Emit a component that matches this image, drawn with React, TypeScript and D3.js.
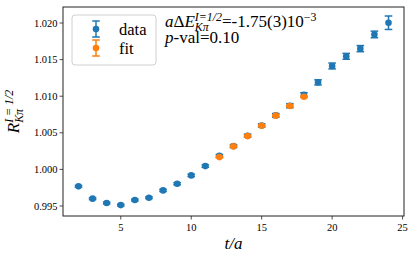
import React, { useEffect, useRef } from 'react';
import * as d3 from 'd3';

// lattice time slices and ratio values
const tData = [2, 3, 4, 5, 6, 7, 8, 9, 10, 11, 12, 13, 14, 15, 16, 17, 18, 19, 20, 21, 22, 23, 24];
const rData = [0.99768, 0.996, 0.9954, 0.99512, 0.99581, 0.99613, 0.99713, 0.99804, 0.99918, 1.00045, 1.00185, 1.00318, 1.0046, 1.006, 1.00738, 1.0087, 1.01018, 1.01189, 1.01413, 1.01545, 1.0165, 1.01844, 1.02004];
const rErr = [0.00012, 0.00012, 0.00012, 0.00012, 0.00012, 0.00012, 0.00014, 0.00014, 0.00015, 0.00016, 0.00018, 0.0002, 0.0002, 0.00022, 0.00025, 0.00028, 0.0003, 0.00035, 0.0004, 0.0004, 0.00042, 0.00045, 0.00092];

const tFit = [12, 13, 14, 15, 16, 17, 18];
const rFit = [1.00168, 1.00314, 1.00455, 1.00597, 1.00734, 1.00866, 1.00993];
const fitErr = [0.0001, 0.0001, 0.0001, 0.0001, 0.0001, 0.0001, 0.0001];

const xTicks = [5, 10, 15, 20, 25];
const yTicks = [0.995, 1.0, 1.005, 1.01, 1.015, 1.02];

const BLUE = '#1f77b4';
const ORANGE = '#ff7f0e';

type Piece = { text: string; italic?: boolean; kind?: 'n' | 'sup' | 'sub' };

// lays out a small mathtext-like string, returns total width
function drawMath(g: any, x: number, y: number, pieces: Piece[], size: number, anchor = 'start') {
  const grp = g.append('g');
  let cx = 0;
  let lastSupX = 0;
  let lastSupW = 0;
  pieces.forEach((p) => {
    const kind = p.kind || 'n';
    const fs = kind === 'n' ? size : size * 0.7;
    let px = cx;
    let py = 0;
    if (kind === 'sup') { py = -size * 0.38; lastSupX = cx; }
    if (kind === 'sub') { py = size * 0.24; px = lastSupX; }
    const t = grp.append('text')
      .attr('x', px).attr('y', py)
      .attr('font-size', fs)
      .attr('font-style', p.italic ? 'italic' : 'normal')
      .attr('fill', 'black')
      .text(p.text);
    const w = (t.node() as SVGTextElement).getComputedTextLength();
    if (kind === 'sup') { lastSupW = w; cx += w; }
    else if (kind === 'sub') { cx = lastSupX + Math.max(lastSupW, w); }
    else cx += w;
  });
  const shift = anchor === 'middle' ? -cx / 2 : 0;
  grp.attr('transform', `translate(${x + shift},${y})`);
  return cx;
}

export default function App() {
  const ref = useRef<SVGSVGElement>(null);

  useEffect(() => {
    const svg = d3.select(ref.current);
    svg.selectAll('*').remove();

    const left = 63, right = 404, top = 7, bottom = 216;
    const x = d3.scaleLinear().domain([0.9, 25.1]).range([left, right]);
    const y = d3.scaleLinear().domain([0.99363, 1.02219]).range([bottom, top]);

    const g = svg.append('g');

    // error bars + markers
    const drawSeries = (ts: number[], rs: number[], es: number[], color: string) => {
      const s = g.append('g');
      ts.forEach((t, i) => {
        const cx = x(t);
        const y1 = y(rs[i] + es[i]);
        const y2 = y(rs[i] - es[i]);
        s.append('line').attr('x1', cx).attr('x2', cx).attr('y1', y1).attr('y2', y2)
          .attr('stroke', color).attr('stroke-width', 1.5);
        [y1, y2].forEach((yy) => {
          s.append('line').attr('x1', cx - 3.8).attr('x2', cx + 3.8).attr('y1', yy).attr('y2', yy)
            .attr('stroke', color).attr('stroke-width', 1.5);
        });
        s.append('circle').attr('cx', cx).attr('cy', y(rs[i])).attr('r', 3.3).attr('fill', color);
      });
    };
    drawSeries(tData, rData, rErr, BLUE);
    drawSeries(tFit, rFit, fitErr, ORANGE);

    // frame
    g.append('rect').attr('x', left).attr('y', top).attr('width', right - left).attr('height', bottom - top)
      .attr('fill', 'none').attr('stroke', '#222').attr('stroke-width', 1);

    // ticks
    xTicks.forEach((v) => {
      g.append('line').attr('x1', x(v)).attr('x2', x(v)).attr('y1', bottom).attr('y2', bottom + 3.5)
        .attr('stroke', '#222').attr('stroke-width', 0.8);
      g.append('text').attr('x', x(v)).attr('y', bottom + 14.5).attr('text-anchor', 'middle')
        .attr('font-size', 10.5).text(d3.format('d')(v));
    });
    yTicks.forEach((v) => {
      g.append('line').attr('x1', left - 3.5).attr('x2', left).attr('y1', y(v)).attr('y2', y(v))
        .attr('stroke', '#222').attr('stroke-width', 0.8);
      g.append('text').attr('x', left - 5.5).attr('y', y(v) + 3.6).attr('text-anchor', 'end')
        .attr('font-size', 10.5).text(d3.format('.3f')(v));
    });

    // axis labels
    drawMath(g, (left + right) / 2, 249, [{ text: 't/a', italic: true }], 17, 'middle');
    const yl = g.append('g').attr('transform', `translate(19,${(top + bottom) / 2}) rotate(-90)`);
    drawMath(yl, 0, 0, [
      { text: 'R', italic: true },
      { text: 'I = 1/2', italic: true, kind: 'sup' },
      { text: 'Kπ', italic: true, kind: 'sub' },
    ], 17, 'middle');

    // legend
    const lg = g.append('g');
    lg.append('rect').attr('x', 72).attr('y', 15).attr('width', 84).attr('height', 50).attr('rx', 3)
      .attr('fill', 'white').attr('fill-opacity', 0.8).attr('stroke', '#d0d0d0').attr('stroke-width', 1);
    [{ label: 'data', color: BLUE, cy: 29 }, { label: 'fit', color: ORANGE, cy: 48 }].forEach((e) => {
      lg.append('line').attr('x1', 96).attr('x2', 96).attr('y1', e.cy - 8).attr('y2', e.cy + 8)
        .attr('stroke', e.color).attr('stroke-width', 1.5);
      [e.cy - 8, e.cy + 8].forEach((yy) => {
        lg.append('line').attr('x1', 92.2).attr('x2', 99.8).attr('y1', yy).attr('y2', yy)
          .attr('stroke', e.color).attr('stroke-width', 1.5);
      });
      lg.append('circle').attr('cx', 96).attr('cy', e.cy).attr('r', 3.3).attr('fill', e.color);
      lg.append('text').attr('x', 119).attr('y', e.cy + 6)
        .attr('font-size', 16.5).text(e.label);
    });

    // annotation
    drawMath(g, 165, 27, [
      { text: 'a', italic: true },
      { text: 'Δ' },
      { text: 'E', italic: true },
      { text: 'I=1/2', italic: true, kind: 'sup' },
      { text: 'Kπ', italic: true, kind: 'sub' },
      { text: '=-1.75(3)10' },
      { text: '−3', kind: 'sup' },
    ], 17);
    drawMath(g, 165, 43, [
      { text: 'p', italic: true },
      { text: '-val=0.10' },
    ], 17);
  }, []);

  return (
    <svg ref={ref} width={416} height={260}
      style={{ position: 'absolute', left: 0, top: 0, background: 'white', fontFamily: 'Times' }} />
  );
}
